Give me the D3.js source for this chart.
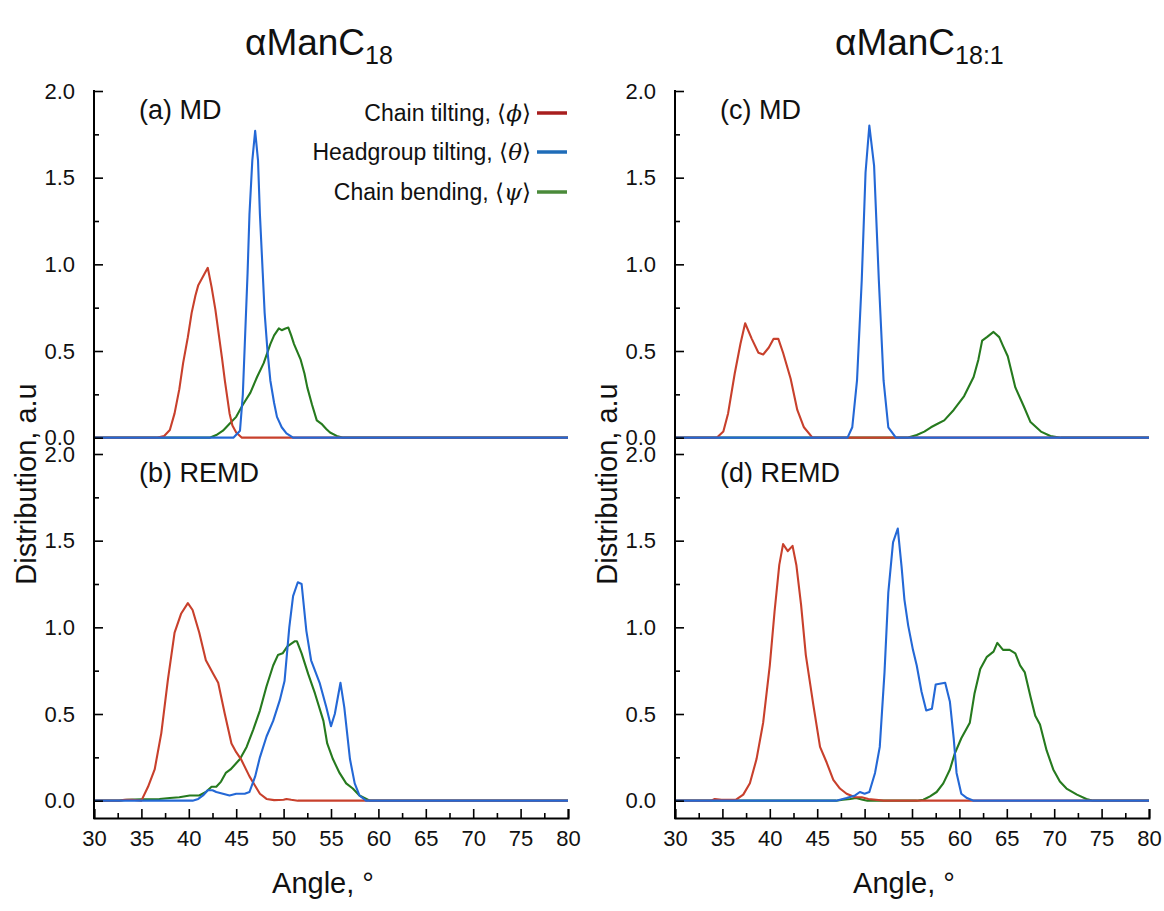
<!DOCTYPE html>
<html><head><meta charset="utf-8">
<script src="https://cdn.jsdelivr.net/npm/d3@7"></script>
<style>
body{margin:0;background:#fff;}
svg{display:block;font-family:"Liberation Sans",Arial,sans-serif;}
</style></head><body>
<svg id="c" width="1164" height="911"></svg>
<script>
// ---- data ----
const xTicks = [30,35,40,45,50,55,60,65,70,75,80];
const yTicks = [0,0.5,1.0,1.5,2.0];
const yTickLabels = ["0.0","0.5","1.0","1.5","2.0"];
const seriesNames = ["Chain tilting, ","Headgroup tilting, ","Chain bending, "];
const seriesSymbols = ["\u03D5","\u03B8","\u03C8"];
const panelLabels = ["(a) MD","(b) REMD","(c) MD","(d) REMD"];

// (a) αManC18 MD
const aPhi = [[30,0],[36.6,0],[37.4,0.01],[38.0,0.044],[38.5,0.14],[39.0,0.28],[39.4,0.43],[39.9,0.58],[40.3,0.72],[40.7,0.82],[41.0,0.88],[41.5,0.93],[42.0,0.98],[42.4,0.87],[42.8,0.74],[43.1,0.62],[43.5,0.46],[43.8,0.33],[44.3,0.14],[44.6,0.07],[45.0,0.03],[45.6,0],[80,0]];
const aTheta = [[30,0],[44.7,0],[45.4,0.04],[45.7,0.25],[45.9,0.53],[46.2,0.95],[46.4,1.29],[46.7,1.6],[47.0,1.77],[47.3,1.6],[47.5,1.29],[47.8,0.95],[48.0,0.72],[48.3,0.5],[48.6,0.33],[49.0,0.2],[49.3,0.12],[49.8,0.06],[50.3,0.025],[51.0,0],[80,0]];
const aPsi = [[30,0],[42.2,0],[42.9,0.015],[43.6,0.04],[44.3,0.08],[45.0,0.12],[45.7,0.19],[46.5,0.26],[47.2,0.35],[47.9,0.43],[48.6,0.54],[49.0,0.59],[49.5,0.63],[49.8,0.62],[50.2,0.63],[50.5,0.635],[50.8,0.59],[51.1,0.54],[51.8,0.45],[52.2,0.37],[52.5,0.29],[53.0,0.19],[53.5,0.10],[54.0,0.08],[54.5,0.05],[54.9,0.03],[55.6,0.01],[56.3,0],[80,0]];
// (b) αManC18 REMD
const bPhi = [[30,0],[32.7,0],[33.2,0.005],[34,0.005],[35.0,0.0],[35.7,0.08],[36.4,0.18],[37.1,0.39],[37.8,0.70],[38.5,0.97],[39.2,1.08],[39.9,1.14],[40.4,1.10],[41.1,0.97],[41.8,0.81],[42.6,0.73],[43.1,0.68],[43.8,0.50],[44.5,0.33],[45.0,0.28],[45.5,0.24],[46.4,0.14],[47.5,0.04],[48.2,0.01],[49,0.003],[50.0,0.005],[50.3,0.01],[50.8,0.005],[51.5,0],[80,0]];
const bTheta = [[30,0],[40.4,0],[41.0,0.01],[41.5,0.03],[42.0,0.06],[42.5,0.06],[42.9,0.05],[43.6,0.04],[44.3,0.03],[45.0,0.04],[45.9,0.04],[46.4,0.05],[47.0,0.14],[47.5,0.25],[48.2,0.37],[48.9,0.46],[49.6,0.58],[50.1,0.69],[50.6,1.00],[51.0,1.18],[51.5,1.26],[51.9,1.25],[52.4,0.98],[52.9,0.81],[53.8,0.68],[54.5,0.54],[55.0,0.43],[55.4,0.50],[56.0,0.68],[56.4,0.54],[57.0,0.24],[57.5,0.10],[58.0,0.03],[58.7,0],[80,0]];
const bPsi = [[30,0],[32.6,0],[33.5,0.005],[35,0.008],[36.9,0.01],[38,0.015],[39.0,0.02],[40.1,0.03],[41.1,0.03],[41.8,0.05],[42.4,0.08],[42.9,0.08],[43.4,0.11],[43.9,0.16],[44.4,0.18],[45.4,0.24],[46.1,0.31],[46.8,0.41],[47.5,0.52],[48.2,0.66],[48.9,0.78],[49.4,0.84],[49.9,0.85],[50.4,0.89],[51.2,0.92],[51.4,0.92],[51.9,0.85],[52.6,0.73],[53.3,0.62],[54.2,0.46],[54.6,0.33],[55.2,0.24],[55.9,0.16],[56.6,0.10],[57.3,0.07],[58.0,0.03],[59.1,0],[80,0]];
// (c) αManC18:1 MD
const cPhi = [[30,0],[34.4,0],[35.1,0.035],[35.6,0.14],[36.3,0.37],[36.9,0.54],[37.4,0.66],[38.1,0.57],[38.8,0.49],[39.3,0.48],[39.9,0.52],[40.4,0.57],[40.9,0.57],[41.4,0.49],[42.2,0.34],[42.9,0.16],[43.6,0.06],[44.5,0],[80,0]];
const cTheta = [[30,0],[48.2,0],[48.7,0.06],[49.2,0.33],[49.7,0.91],[50.1,1.53],[50.5,1.80],[51.0,1.57],[51.5,0.91],[52.0,0.33],[52.5,0.06],[53.3,0],[80,0]];
const cPsi = [[30,0],[54.5,0],[55.5,0.015],[56.3,0.035],[57.0,0.06],[57.7,0.08],[58.4,0.10],[59.4,0.16],[60.5,0.24],[61.5,0.35],[62.0,0.45],[62.4,0.56],[62.9,0.58],[63.6,0.61],[64.2,0.58],[64.6,0.53],[65.1,0.47],[65.5,0.38],[65.9,0.29],[66.8,0.18],[67.5,0.09],[68.6,0.035],[69.6,0.01],[70.7,0],[80,0]];
// (d) αManC18:1 REMD
const dPhi = [[30,0],[33.8,0],[34.2,0.01],[34.9,0.005],[36.4,0.005],[37.2,0.035],[37.9,0.10],[38.6,0.24],[39.3,0.45],[40.0,0.78],[40.5,1.09],[41.0,1.36],[41.4,1.48],[41.9,1.44],[42.4,1.47],[42.8,1.36],[43.3,1.13],[43.8,0.84],[44.6,0.55],[45.3,0.31],[46.0,0.22],[46.7,0.12],[47.4,0.07],[48.1,0.04],[49.0,0.02],[49.7,0.02],[50.4,0.01],[52.0,0],[80,0]];
const dTheta = [[30,0],[47.0,0],[48.1,0.015],[49.0,0.03],[49.5,0.05],[50.0,0.04],[50.5,0.05],[51.1,0.16],[51.6,0.31],[52.1,0.74],[52.5,1.20],[53.0,1.49],[53.5,1.57],[53.9,1.35],[54.2,1.16],[54.6,1.01],[55.1,0.87],[55.5,0.78],[56.0,0.63],[56.5,0.52],[57.1,0.53],[57.5,0.67],[58.5,0.68],[59.0,0.57],[59.4,0.36],[59.7,0.16],[60.2,0.04],[60.8,0.015],[61.5,0],[80,0]];
const dPsi = [[30,0],[47.0,0],[47.7,0.005],[48.5,0.01],[49.1,0.015],[49.8,0.005],[50.3,0],[55.5,0],[56.2,0.005],[56.9,0.025],[57.6,0.05],[58.3,0.10],[59.0,0.18],[59.5,0.27],[60.2,0.36],[61.1,0.45],[61.6,0.62],[62.2,0.76],[62.9,0.83],[63.6,0.86],[64.0,0.91],[64.6,0.87],[65.3,0.87],[65.9,0.85],[66.4,0.78],[66.9,0.74],[67.5,0.60],[68.0,0.49],[68.5,0.44],[69.2,0.29],[69.9,0.18],[70.6,0.11],[71.3,0.07],[72.4,0.035],[73.4,0.01],[74.1,0],[80,0]];

// ---- layout ----
const svg = d3.select("#c");
const colors = {phi:"#c8402c", theta:"#2468d6", psi:"#267a1e"};
const legendColors = ["#a81e1e","#1f6cb8","#4a8a3a"];
const cols = [{x0:94,x1:568,title:"\u03B1ManC",sub:"18",tx:245,lab:36},
              {x0:675,x1:1149,title:"\u03B1ManC",sub:"18:1",tx:835,lab:617}];
const rows = [{y0:455,y1:91},{y0:818,y1:454}];
const panels = [
  {c:0,r:0,label:panelLabels[0],phi:aPhi,theta:aTheta,psi:aPsi},
  {c:0,r:1,label:panelLabels[1],phi:bPhi,theta:bTheta,psi:bPsi},
  {c:1,r:0,label:panelLabels[2],phi:cPhi,theta:cTheta,psi:cPsi},
  {c:1,r:1,label:panelLabels[3],phi:dPhi,theta:dTheta,psi:dPsi}];

const tickFont = 22;
panels.forEach(p=>{
  const col = cols[p.c], row = rows[p.r];
  const x = d3.scaleLinear().domain([30,80]).range([col.x0,col.x1]);
  const y = d3.scaleLinear().domain([-0.1,2.0]).range([row.y0,row.y1]);
  const g = svg.append("g");
  const line = d3.line().x(d=>x(d[0])).y(d=>y(d[1]));
  [["psi",colors.psi],["phi",colors.phi],["theta",colors.theta]].forEach(([k,c])=>{
    g.append("path").datum(p[k]).attr("d",line).attr("fill","none")
      .attr("stroke",c).attr("stroke-width",2.1).attr("stroke-linejoin","round");
  });
  const ya = g.append("g").attr("transform",`translate(${col.x0},0)`)
    .call(d3.axisLeft(y).tickValues(yTicks).tickFormat((d,i)=>yTickLabels[i]).tickSize(-9).tickPadding(19));
  ya.select(".domain").remove();
  ya.selectAll("line").attr("stroke","#000").attr("stroke-width",1.6);
  ya.selectAll("text").attr("font-size",tickFont).attr("fill","#111").attr("font-family","Liberation Sans, Arial, sans-serif");
  const ym = g.append("g").attr("transform",`translate(${col.x0},0)`)
    .call(d3.axisLeft(y).tickValues([0.25,0.75,1.25,1.75]).tickFormat("").tickSize(-5));
  ym.select(".domain").remove();
  ym.selectAll("line").attr("stroke","#000").attr("stroke-width",1.6);
  if(p.r===1){
    const xa = g.append("g").attr("transform",`translate(0,${row.y0})`)
      .call(d3.axisBottom(x).tickValues(xTicks).tickSize(-9).tickPadding(12));
    xa.select(".domain").attr("stroke","#000").attr("stroke-width",2);
    xa.selectAll("line").attr("stroke","#000").attr("stroke-width",1.6);
    xa.selectAll("text").attr("font-size",tickFont).attr("fill","#111").attr("font-family","Liberation Sans, Arial, sans-serif");
    const xm = g.append("g").attr("transform",`translate(0,${row.y0})`)
      .call(d3.axisBottom(x).tickValues(d3.range(32.5,80,5)).tickFormat("").tickSize(-5));
    xm.select(".domain").remove();
    xm.selectAll("line").attr("stroke","#000").attr("stroke-width",1.6);
    g.append("text").attr("x",(col.x0+col.x1)/2-8).attr("y",893).attr("text-anchor","middle")
      .attr("font-size",29).attr("fill","#111").text("Angle, \u00B0");
  }
  g.append("text").attr("x",col.x0+45).attr("y",row.y1+28).attr("font-size",27).attr("fill","#111").text(p.label);
});

cols.forEach(col=>{
  svg.append("line").attr("x1",col.x0).attr("x2",col.x0).attr("y1",90).attr("y2",819)
    .attr("stroke","#000").attr("stroke-width",2);
  svg.append("text").attr("transform",`translate(${col.lab},484) rotate(-90)`).attr("text-anchor","middle")
    .attr("font-size",29).attr("fill","#111").text("Distribution, a.u");
  const t = svg.append("text").attr("x",col.tx).attr("y",55).attr("font-size",37).attr("fill","#111");
  t.append("tspan").text(col.title);
  t.append("tspan").attr("dy",9).attr("font-size",25).text(col.sub);
});

// legend (panel a)
const legY = [113,152,192];
seriesNames.forEach((s,i)=>{
  const t = svg.append("text").attr("x",531).attr("y",legY[i]+8).attr("text-anchor","end")
    .attr("font-size",23).attr("fill","#111");
  t.append("tspan").text(s + "\u27E8");
  t.append("tspan").attr("font-style","italic").attr("font-family","DejaVu Serif, serif").text(seriesSymbols[i]);
  t.append("tspan").text("\u27E9");
  svg.append("line").attr("x1",537).attr("x2",567).attr("y1",legY[i]).attr("y2",legY[i])
    .attr("stroke",legendColors[i]).attr("stroke-width",3.5);
});
</script></body></html>
